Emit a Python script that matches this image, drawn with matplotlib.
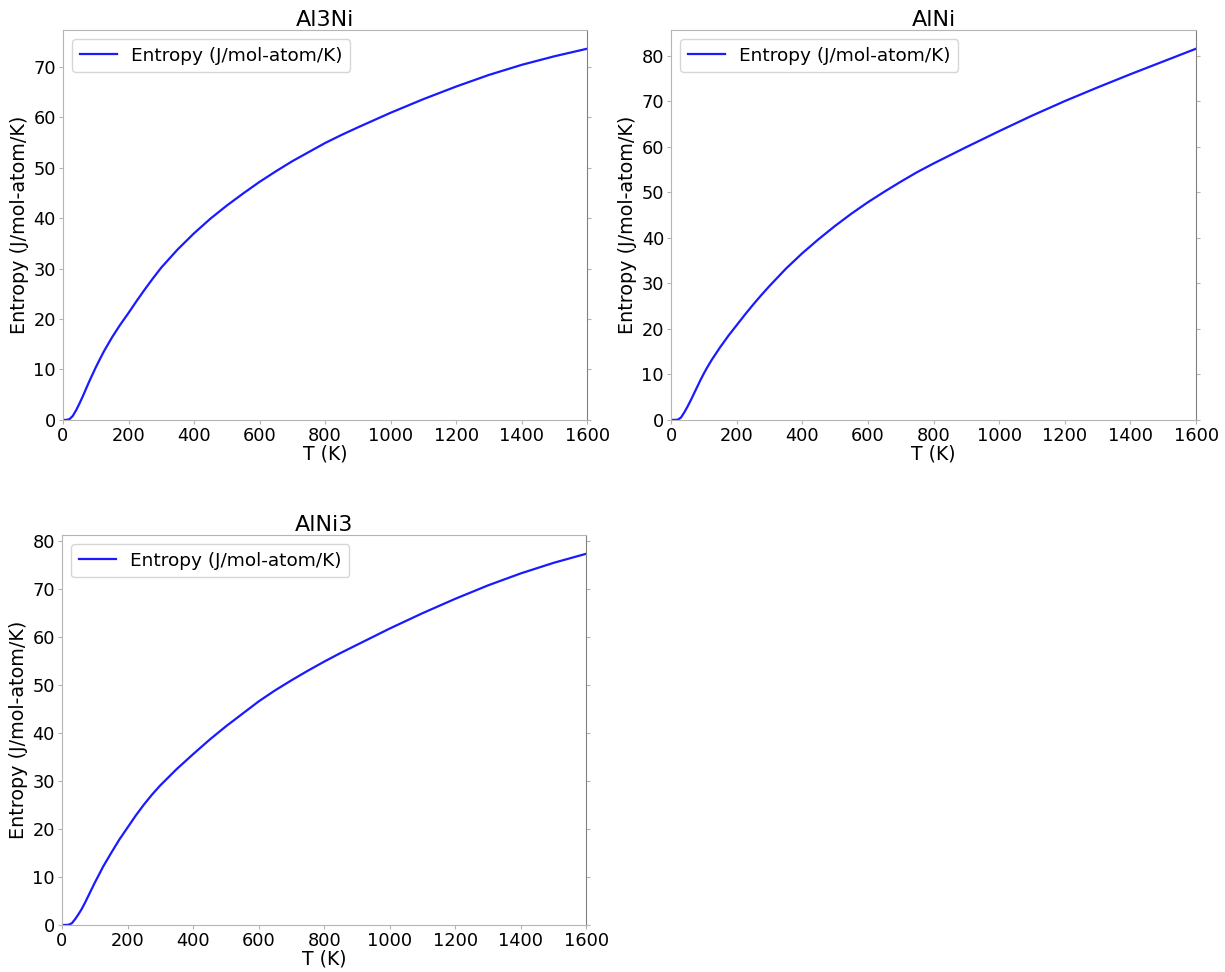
import numpy as np
import matplotlib
matplotlib.use("Agg")
import matplotlib.pyplot as plt

plt.rcParams["font.family"] = "DejaVu Sans"

# temperature grid (K) and entropy (J/mol-atom/K)
T = [0, 10, 20, 30, 40, 50, 60, 70, 80, 90, 100, 110, 125, 150, 175, 200, 225, 250,
     275, 300, 350, 400, 450, 500, 550, 600, 650, 700, 750, 800, 850, 900, 1000,
     1100, 1200, 1300, 1400, 1500, 1600]

S_Al3Ni = [0, 0.0, 0.15, 0.8, 1.9, 3.2, 4.6, 6.1, 7.6, 9.0, 10.4, 11.7, 13.6, 16.4,
           18.9, 21.2, 23.6, 25.9, 28.1, 30.2, 33.8, 37.0, 39.9, 42.5, 44.9, 47.2,
           49.3, 51.3, 53.1, 54.9, 56.5, 58.0, 60.9, 63.6, 66.1, 68.4, 70.4, 72.1, 73.6]
S_AlNi = [0, 0.0, 0.03, 0.5, 1.6, 2.9, 4.3, 5.8, 7.3, 8.8, 10.2, 11.5, 13.3, 16.0,
          18.5, 20.8, 23.1, 25.3, 27.4, 29.4, 33.2, 36.6, 39.7, 42.6, 45.3, 47.8,
          50.1, 52.3, 54.4, 56.3, 58.1, 59.9, 63.4, 66.8, 70.0, 73.0, 75.9, 78.7, 81.5]
S_AlNi3 = [0, 0.0, 0.03, 0.35, 1.2, 2.2, 3.3, 4.6, 6.0, 7.4, 8.8, 10.1, 12.1, 15.0,
           17.8, 20.3, 22.8, 25.1, 27.2, 29.1, 32.5, 35.6, 38.6, 41.4, 44.0, 46.6,
           48.9, 51.0, 53.0, 54.9, 56.7, 58.4, 61.8, 65.0, 68.0, 70.8, 73.3, 75.5, 77.4]

phases = ["Al3Ni", "AlNi", "AlNi3"]
series = [S_Al3Ni, S_AlNi, S_AlNi3]

fig = plt.figure(figsize=(12.25, 9.72), dpi=100)
# axes boxes in figure fractions [left, bottom, width, height]
boxes = [[0.0514, 0.568, 0.428, 0.401],
         [0.5478, 0.568, 0.4286, 0.401],
         [0.0506, 0.0484, 0.428, 0.401]]

for name, S, box in zip(phases, series, boxes):
    ax = fig.add_axes(box)
    ax.plot(T, S, color="#1a1aff", lw=1.6, label="Entropy (J/mol-atom/K)")
    ax.set_xlim(0, 1600)
    ax.set_ylim(bottom=0)
    ax.set_title(name, fontsize=16, pad=3)
    ax.set_xlabel("T (K)", fontsize=13.5, labelpad=0)
    ax.set_ylabel("Entropy (J/mol-atom/K)", fontsize=13.8, labelpad=3)
    ax.legend(loc="upper left", fontsize=13.3)
    for side in ["left", "bottom", "top"]:
        ax.spines[side].set_color("#b5b5b5")
    ax.spines["right"].set_color("#808080")
    ax.tick_params(axis="both", color="#b5b5b5", length=3, pad=2, labelsize=12.8)
    ax.tick_params(axis="y", right=True, length=3)
    for t in ax.yaxis.get_major_ticks():
        t.tick2line.set_color("#555555")

fig.savefig("out.png", dpi=100)
